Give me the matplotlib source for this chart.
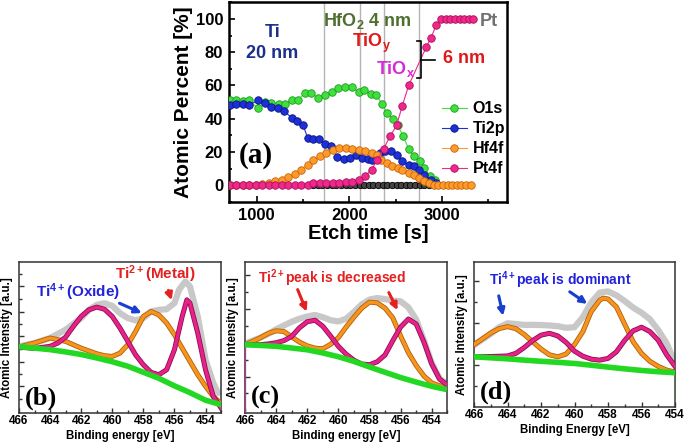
import matplotlib
matplotlib.use('Agg')
import matplotlib.pyplot as plt
from matplotlib.lines import Line2D
from matplotlib.ticker import FixedLocator, MultipleLocator, NullFormatter

plt.rcParams['font.family'] = ['Liberation Sans', 'DejaVu Sans']
plt.rcParams['font.weight'] = 'bold'
plt.rcParams['mathtext.fontset'] = 'custom'
plt.rcParams['mathtext.rm'] = 'Liberation Sans:bold'
plt.rcParams['mathtext.bf'] = 'Liberation Sans:bold'
plt.rcParams['mathtext.it'] = 'Liberation Sans:bold'

# ---------------- depth profile data (panel a) ----------------
t_o1s = [710, 780, 850, 920, 1010, 1090, 1160, 1240, 1310, 1380, 1450, 1520, 1590, 1660,
         1740, 1810, 1880, 1950, 2030, 2100, 2160, 2230, 2290, 2350, 2410, 2470, 2520,
         2580, 2640, 2700, 2760, 2810, 2870, 2920]
o1s = [51.5, 51, 50.5, 51, 46.5, 50, 49.5, 49, 49, 51.5, 51.5, 55.5, 55.5, 52.5,
       54, 56, 58.5, 59, 59, 56, 57.5, 55, 54.5, 49, 43.5, 40, 36.5,
       29.5, 22, 17.5, 14.5, 10.5, 5.5, 3.5]

t_ti2p = [710, 780, 850, 920, 1010, 1090, 1160, 1230, 1300, 1380, 1440, 1500, 1550, 1610,
          1670, 1740, 1800, 1870, 1940, 2010, 2070, 2140, 2200, 2250, 2330, 2390, 2450,
          2510, 2570, 2640, 2700, 2750, 2810, 2880, 2930]
ti2p = [48, 49, 49, 48, 51, 49.5, 47, 46.5, 44.5, 40.5, 38.5, 36.5, 28.5, 28,
        28, 25, 23.5, 17, 16, 16.5, 18, 16.5, 16, 15.5, 19.5, 20.5, 20.5,
        18, 14.5, 12.5, 11.5, 9.5, 6.5, 3.5, 1.5]

t_hf4f = [710, 780, 850, 920, 990, 1060, 1130, 1200, 1270, 1340, 1410, 1480, 1550, 1610,
          1680, 1750, 1820, 1890, 1960, 2030, 2100, 2170, 2240, 2300, 2340, 2410, 2460,
          2520, 2570, 2640, 2700, 2750, 2810, 2860, 2910, 2960, 3010, 3060, 3110, 3160,
          3210, 3260, 3310]
hf4f = [0, 0, 0, 0, 0.5, 1, 1.5, 2.5, 3.5, 5, 7, 9.5, 12.5, 15,
        17.5, 19.5, 21.5, 22.5, 22.5, 22, 21.5, 20.5, 19.5, 18, 15.5, 13.5, 11.5,
        10.5, 9.5, 7.5, 6.5, 4.5, 2.5, 1.5, 0.5, 0, 0, 0, 0, 0,
        0, 0, 0]

t_pt4f = [710, 780, 850, 920, 990, 1060, 1130, 1200, 1270, 1340, 1410, 1480, 1550, 1610,
          1680, 1750, 1820, 1890, 1960, 2030, 2100, 2170, 2240, 2300, 2370, 2440, 2510,
          2570, 2640, 2830, 2880, 2940, 2990, 3040, 3090, 3140, 3190, 3240, 3290, 3330]
pt4f = [0, 0, 0, 0, 0, 0, 0, 0, 0, 0, 0, 0, 0, 1.5,
        1.5, 1.5, 1.5, 1.5, 2, 2, 3.5, 5.5, 9.5, 15, 22, 29.5, 36,
        47.5, 60, 83, 88.5, 96.5, 100, 100, 100, 100, 100, 100, 100, 100]

t_black = [1610, 1660, 1710, 1760, 1810, 1860, 1910, 1960, 2010, 2060, 2110, 2160, 2210,
           2260, 2310, 2360, 2410, 2460, 2510, 2560, 2610, 2660, 2710, 2760, 2810, 2860,
           2910, 2960]
black = [0, 0, 0, 0, 0, 0, 0, 0, 0, 0, 0, 0, 0,
         0, 0, 0, 0, 0, 0, 0, 0, 0, 0, 0, 0, 0,
         0, 0]

boundaries = [1730, 2110, 2370, 2750]
bracket_x = [2735, 2772, 2772, 2735]
bracket_y = [86.5, 86.5, 64.5, 64.5]
bracket_mid_x = [2772, 2920]
bracket_mid_y = [75.5, 75.5]

# ---------------- XPS spectra data (panels b, c, d) ----------------
# (b)
b_bg_x = [466, 465, 464, 463, 462, 461, 460, 459, 458, 457, 456, 455, 454, 453]
b_bg_y = [44, 43, 42, 40.5, 38.8, 36.5, 34, 31, 27, 23, 18, 13.5, 8.5, 5.5]
b_or_x = [466, 465, 464, 463, 462, 461, 460.5, 460, 459.5, 459, 458.5, 458, 457.5, 457,
          456.5, 456, 455.5, 455, 454.5, 454, 453.5, 453]
b_or_y = [43.7, 46.4, 49.7, 47.5, 43, 39.3, 38, 37.5, 39.7, 45.3, 54, 64, 67.3, 65,
          59.6, 51.9, 43, 34.2, 25.4, 17.7, 11, 6.2]
b_pk_x = [466, 465, 464, 463.5, 463, 462.5, 462, 461.5, 461, 460.5, 460, 459.5, 459, 458.5,
          458, 457.5, 457, 456.5, 456, 455.5, 455.2, 455, 454.5, 454, 453.5, 453]
b_pk_y = [43.7, 42.8, 44.2, 46.4, 50.3, 57.4, 64, 68.4, 70.2, 68.8, 64, 56.3, 47.5, 38.6,
          32, 26.9, 25.4, 28.7, 41.9, 64, 75, 72.8, 53, 28.7, 11, 3.3]
b_gr_x = [466, 465, 464, 463, 462, 461.5, 461, 460.5, 460, 459.5, 459, 458.5, 458, 457.5,
          457, 456.5, 456, 455.7, 455.3, 455, 454.5, 454, 453.5, 453.2]
b_gr_y = [44.2, 46.4, 49.7, 55.2, 62.9, 68.4, 71.7, 72.8, 71, 66.2, 62.9, 61.4, 62.9, 67.3,
          68.4, 68.8, 72.8, 81.7, 87.2, 83.9, 64, 35.3, 19.9, 13.2]

# (c)
c_bg_x = [466, 465, 464, 463, 462, 461, 460, 459, 458, 457, 456, 455, 454, 453.2]
c_bg_y = [45.3, 44.8, 44.2, 43.1, 41.9, 39.8, 37.3, 34.2, 30.5, 27, 23.5, 20.5, 17.7, 15.9]
c_grid = [466, 465.5, 465, 464.5, 464, 463.5, 463, 462.5, 462, 461.5, 461, 460.5, 460, 459.5,
          459, 458.5, 458, 457.5, 457, 456.5, 456, 455.5, 455, 454.5, 454, 453.5, 453]
c_or_y = [45.3, 47.5, 50, 52.8, 54.5, 54, 50.5, 47, 44.5, 43, 42.6, 45.5, 50, 57,
          63.5, 69.5, 73.5, 73, 69.5, 63, 51, 40, 31.5, 24.5, 20, 18, 17.5]
c_pk_y = [45.3, 45.3, 45.3, 45.8, 46.6, 48, 50.8, 56.5, 60.5, 61.5, 57.5, 51, 44.2, 39,
          35, 32.5, 32, 34, 38.5, 48, 57, 62.3, 59, 47, 32.5, 22.5, 18.5]
c_gr_y = [46, 48, 50, 52.5, 55.5, 58, 60.5, 62.5, 64, 65, 63.5, 61.5, 60.7, 62.5,
          67, 72, 75.2, 76.2, 75.5, 74.5, 74, 70, 62, 48, 33, 23, 19]

# (d)
d_bg_x = [466, 465, 464, 463, 462, 461, 460, 459, 458, 457, 456, 455, 454]
d_bg_y = [34.6, 33.9, 33.2, 32.3, 31.5, 30.8, 30, 28.8, 27.5, 26.3, 25.2, 24.3, 23.6]
d_or_x = [466, 465.5, 465, 464.5, 464, 463.5, 463, 462.5, 462, 461.5, 461, 460.5, 460, 459.5,
          459, 458.5, 458.3, 458, 457.5, 457, 456.5, 456, 455.5, 455, 454.5, 454]
d_or_y = [43, 47, 51, 54, 55.4, 54, 50, 45, 40, 36, 34.6, 36.5, 43, 52,
          65.8, 73.5, 75, 74.5, 69, 57, 45, 37, 31.5, 28, 25.5, 24]
d_pk_x = [466, 465, 464, 463.5, 463, 462.5, 462, 461.5, 461, 460.5, 460, 459.5, 459, 458.5,
          458, 457.5, 457, 456.5, 456, 455.5, 455, 454.5, 454]
d_pk_y = [34.6, 34.8, 35.2, 37, 41, 45.8, 49.5, 50.8, 49, 44.5, 38.5, 35, 33, 32.3,
          33.5, 38, 46, 52.5, 55, 52, 46, 36, 28]
d_gr_x = [466, 465.5, 465, 464.5, 464, 463.5, 463, 462.5, 462, 461.5, 461, 460.5, 460, 459.5,
          459, 458.5, 458, 457.5, 457, 456.5, 456, 455.5, 455, 454.5, 454.1]
d_gr_y = [42.7, 46.5, 50.5, 55, 57.7, 57.2, 56.6, 56.6, 56.5, 56.2, 55.7, 54.6, 55, 62,
          72, 78.8, 79.7, 77, 73, 68.5, 65, 60.5, 53, 44, 33]

# ---------------- figure ----------------
fig = plt.figure(figsize=(6.85, 4.45), dpi=100)

# ---- panel (a)
ax = fig.add_axes([0.334, 0.546, 0.406, 0.449])
for b in boundaries:
    ax.axvline(b, color='#b4b4b4', lw=1.0, zorder=1)

series = [
    (t_o1s, o1s, '#3ee03e', '#1f9a1f', 'O1s'),
    (t_ti2p, ti2p, '#1c2fd8', '#0a1680', 'Ti2p'),
    (t_hf4f, hf4f, '#ff9a2a', '#c4650a', 'Hf4f'),
    (t_pt4f, pt4f, '#f0288c', '#a8105a', 'Pt4f'),
]
handles = []
for tx, vy, fc, ec, lab in series:
    ax.plot(tx, vy, '-', color=fc, lw=0.8, marker='o', ms=5.4, mfc=fc, mec=ec,
            mew=0.6, zorder=3)
    handles.append(Line2D([], [], color=fc, lw=0.8, marker='o', ms=5.4, mfc=fc,
                          mec=ec, mew=0.6))
ax.plot(t_black, black, '-', color='#222222', lw=0.8, marker='o', ms=4.6, mfc='#444444',
        mec='#000000', mew=0.6, zorder=2)

ax.set_xlim(700, 3700)
ax.set_ylim(-10, 110)
ax.xaxis.set_major_locator(FixedLocator([1000, 2000, 3000]))
ax.xaxis.set_minor_locator(FixedLocator([1500, 2500, 3500]))
ax.yaxis.set_major_locator(MultipleLocator(20))
ax.yaxis.set_minor_locator(MultipleLocator(10))
ax.set_yticks([0, 20, 40, 60, 80, 100])
ax.tick_params(which='both', direction='in', top=False, right=False, width=1.2)
ax.tick_params(which='major', length=4, labelsize=12, pad=4)
ax.tick_params(which='minor', length=2.5)
for lbl in ax.get_xticklabels() + ax.get_yticklabels():
    lbl.set_fontweight('bold')
for s in ax.spines.values():
    s.set_linewidth(1.8)
ax.set_xlabel('Etch time [s]', fontsize=14.5, fontweight='bold', labelpad=1)
ax.set_ylabel('Atomic Percent [%]', fontsize=15, fontweight='bold', labelpad=2)

ax.legend(handles, ['O1s', 'Ti2p', 'Hf4f', 'Pt4f'], loc='upper left',
          bbox_to_anchor=(0.765, 0.505), frameon=False,
          handlelength=1.6, handletextpad=0.35, labelspacing=0.32, borderpad=0,
          borderaxespad=0, prop={'weight': 'bold', 'size': 11.5})

ax.text(1170, 92, 'Ti', color='#1c2f8c', fontsize=13, fontweight='bold', ha='center', va='center')
ax.text(1165, 79.5, '20 nm', color='#1c2f8c', fontsize=13, fontweight='bold', ha='center', va='center')
ax.text(2190, 99, r'HfO$_2$ 4 nm', color='#4f6f2f', fontsize=13, fontweight='bold', ha='center', va='center')
ax.text(2240, 85, r'TiO$_\mathrm{y}$', color='#e01818', fontsize=13, fontweight='bold', ha='center', va='center')
ax.text(2500, 70, r'TiO$_\mathrm{x}$', color='#d62ad6', fontsize=13, fontweight='bold', ha='center', va='center')
ax.text(3240, 76.5, '6 nm', color='#e01818', fontsize=13, fontweight='bold', ha='center', va='center')
ax.text(3510, 98.5, 'Pt', color='#707070', fontsize=13, fontweight='bold', ha='center', va='center')
ax.text(995, 18, '(a)', family='Liberation Serif', fontsize=21, fontweight='bold', ha='center', va='center')
ax.plot(bracket_x, bracket_y, color='black', lw=1.2, zorder=4)
ax.plot(bracket_mid_x, bracket_mid_y, color='black', lw=1.2, zorder=4)


# ---- spectra panels
def spectrum_panel(rect, bg, orange, pink, gray, xlim, yticks_major, yticks_minor, xlabel, tag):
    a = fig.add_axes(rect)
    a.plot(gray[0], gray[1], color='#c8c8c8', lw=4.5, solid_capstyle='round', zorder=2)
    a.plot(orange[0], orange[1], color='#b0600c', lw=3.6, zorder=3)
    a.plot(orange[0], orange[1], color='#f7941d', lw=2.4, zorder=3)
    a.plot(pink[0], pink[1], color='#8c1050', lw=3.6, zorder=4)
    a.plot(pink[0], pink[1], color='#e8208a', lw=2.4, zorder=4)
    a.plot(bg[0], bg[1], color='#22d822', lw=4.0, zorder=5)
    a.set_xlim(*xlim)
    a.set_ylim(0, 100)
    a.xaxis.set_major_locator(MultipleLocator(2))
    a.xaxis.set_minor_locator(MultipleLocator(1))
    a.yaxis.set_major_locator(FixedLocator(yticks_major))
    a.yaxis.set_minor_locator(FixedLocator(yticks_minor))
    a.yaxis.set_major_formatter(NullFormatter())
    a.tick_params(which='both', direction='in', top=False, right=False, width=1.0,
                  color='#333333')
    a.tick_params(which='major', length=3.5, labelsize=8.5, pad=1.5)
    a.tick_params(which='minor', length=2)
    for lbl in a.get_xticklabels():
        lbl.set_fontweight('bold')
    for s in a.spines.values():
        s.set_linewidth(1.1)
        s.set_color('#333333')
    a.set_xlabel(xlabel, fontsize=8.3, fontweight='bold', labelpad=2)
    a.set_ylabel('Atomic Intensity [a.u.]', fontsize=8.3, fontweight='bold', labelpad=1)
    a.text(0.03, 0.1, tag, transform=a.transAxes, family='Liberation Serif', fontsize=19,
           fontweight='bold', ha='left', va='center')
    return a


ax_b = spectrum_panel([0.0277, 0.0719, 0.295, 0.339], (b_bg_x, b_bg_y), (b_or_x, b_or_y),
                      (b_pk_x, b_pk_y), (b_gr_x, b_gr_y), (466, 453),
                      [17.7, 34, 50.8, 67, 84], [9.5, 26, 42.5, 59, 75.5, 92],
                      'Binding energy [eV]', '(b)')
ax_b.text(0.29, 0.80, r'Ti$^{4+}$(Oxide)', transform=ax_b.transAxes, color='#2222dd',
          fontsize=11, fontweight='bold', ha='center', va='center')
ax_b.text(0.675, 0.92, r'Ti$^{2+}$(Metal)', transform=ax_b.transAxes, color='#e52020',
          fontsize=11, fontweight='bold', ha='center', va='center')
ax_b.annotate('', xy=(0.62, 0.655), xytext=(0.485, 0.735), xycoords='axes fraction',
              arrowprops=dict(arrowstyle='-|>', color='#1a3fd0', lw=2.2, mutation_scale=10))
ax_b.annotate('', xy=(0.76, 0.73), xytext=(0.735, 0.83), xycoords='axes fraction',
              arrowprops=dict(arrowstyle='-|>', color='#e52020', lw=2.2, mutation_scale=10))

ax_c = spectrum_panel([0.3577, 0.0719, 0.2953, 0.339], (c_bg_x, c_bg_y), (c_grid, c_or_y),
                      (c_grid, c_pk_y), (c_grid, c_gr_y), (466, 453),
                      [24, 46.5, 69, 91.5], [13, 35, 58, 80],
                      'Binding energy [eV]', '(c)')
ax_c.vlines([c_grid[0], c_grid[-1]], 0, [c_pk_y[0], c_pk_y[-1]], color='#c0308a', lw=0.9, zorder=4)
ax_c.text(0.43, 0.895, r'Ti$^{2+}$peak is decreased', transform=ax_c.transAxes,
          color='#e52020', fontsize=10, fontweight='bold', ha='center', va='center')
ax_c.annotate('', xy=(0.31, 0.655), xytext=(0.255, 0.835), xycoords='axes fraction',
              arrowprops=dict(arrowstyle='-|>', color='#e52020', lw=2.2, mutation_scale=10))
ax_c.annotate('', xy=(0.76, 0.665), xytext=(0.705, 0.815), xycoords='axes fraction',
              arrowprops=dict(arrowstyle='-|>', color='#e52020', lw=2.2, mutation_scale=10))

ax_d = spectrum_panel([0.692, 0.0854, 0.2934, 0.326], (d_bg_x, d_bg_y), (d_or_x, d_or_y),
                      (d_pk_x, d_pk_y), (d_gr_x, d_gr_y), (466, 454),
                      [28.9, 57.7, 86.6], [14.4, 43.3, 72.2],
                      'Binding Energy [eV]', '(d)')
ax_d.vlines([d_bg_x[-1]], 0, [d_bg_y[-1]], color='#22d822', lw=1.0, zorder=5)
ax_d.text(0.43, 0.875, r'Ti$^{4+}$peak is dominant', transform=ax_d.transAxes,
          color='#2222dd', fontsize=10, fontweight='bold', ha='center', va='center')
ax_d.annotate('', xy=(0.148, 0.61), xytext=(0.12, 0.785), xycoords='axes fraction',
              arrowprops=dict(arrowstyle='-|>', color='#1a3fd0', lw=2.2, mutation_scale=10))
ax_d.annotate('', xy=(0.575, 0.70), xytext=(0.465, 0.805), xycoords='axes fraction',
              arrowprops=dict(arrowstyle='-|>', color='#1a3fd0', lw=2.2, mutation_scale=10))

fig.savefig('out.png', dpi=100)
